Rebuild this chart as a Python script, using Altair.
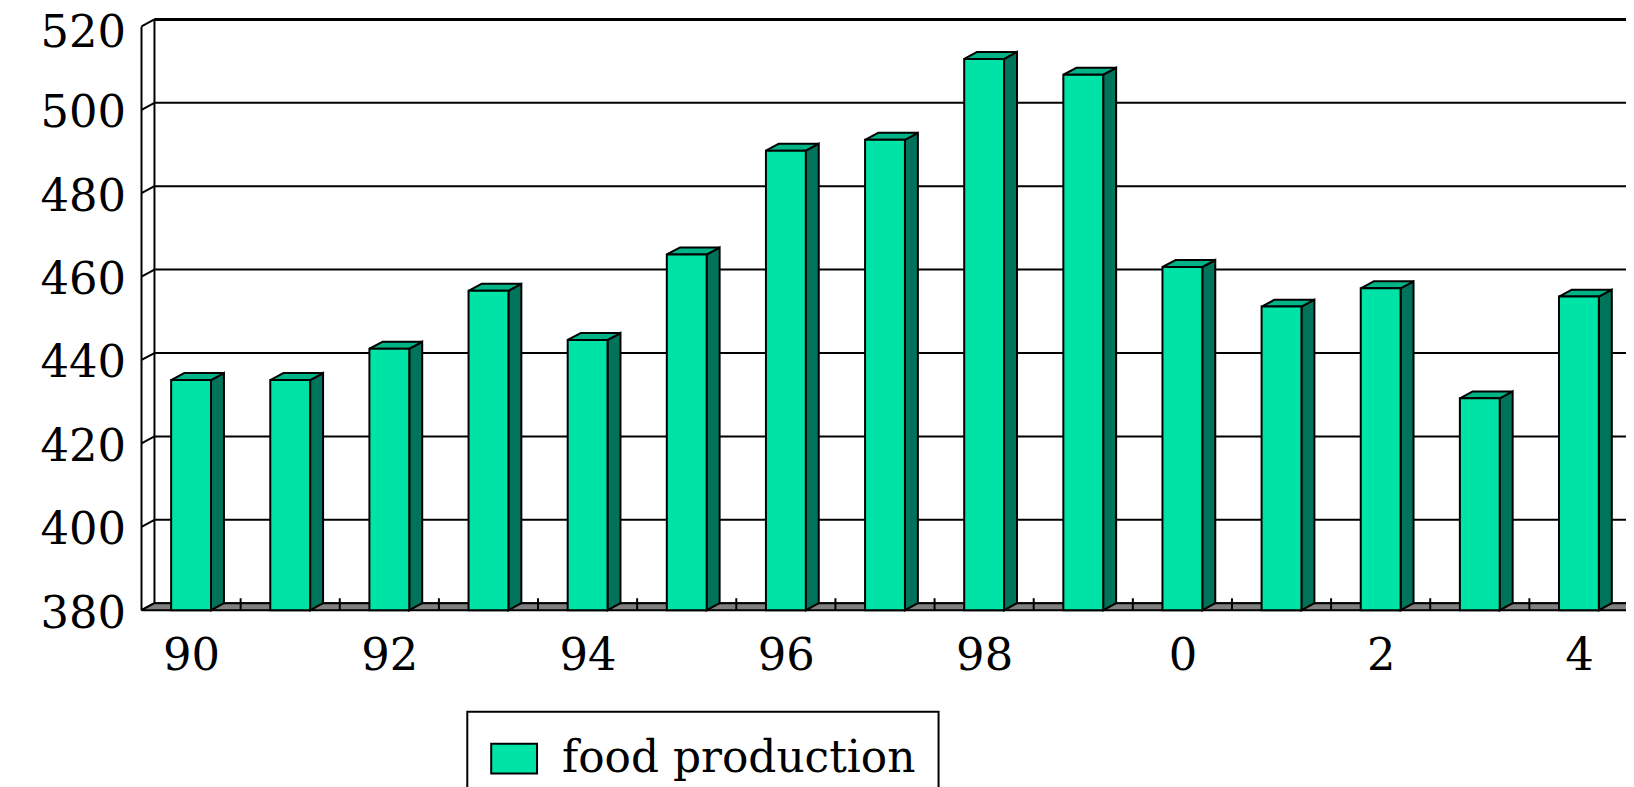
import json
import altair as alt
import pandas as pd

# ---------------- data ----------------
YEARS = ["90", "91", "92", "93", "94", "95", "96", "97", "98", "99", "0", "1", "2", "3", "4"]
VALUES = [435.2, 435.2, 442.7, 456.6, 444.8, 465.3, 490.2, 492.8, 512.2, 508.4,
          462.3, 452.8, 457.2, 430.8, 455.2]
SERIES = "food production"
Y_TICKS = [380, 400, 420, 440, 460, 480, 500, 520]
X_LABEL_IDX = [0, 2, 4, 6, 8, 10, 12, 14]

# ---------------- geometry / style ----------------
W, H = 1490, 586
BAND = 99.5
XMIN = -0.5
XMAX = XMIN + W / BAND
YMIN, YMAX = 380, 520
PX_PER_Y = H / (YMAX - YMIN)
DXP, DYP = 13, 7                  # 3-D depth in pixels
DX = DXP / BAND
DY = DYP / PX_PER_Y
BAR_PX = 40
HW = BAR_PX / 2 / BAND

FRONT = "#00E3A6"
SIDE = "#00745A"
TOP = "#00B487"
FLOOR = "#808080"
FONT = "DejaVu Serif"

idx = list(range(len(YEARS)))
bars = pd.DataFrame({"idx": idx, "year": YEARS, "value": VALUES,
                     "series": [SERIES] * len(YEARS), "base": [YMIN] * len(YEARS)})

side_rows, top_rows = [], []
for i, v in zip(idx, VALUES):
    side_rows.append({"idx": i, "sx": i + HW, "stop": v, "sbot": YMIN})
    side_rows.append({"idx": i, "sx": i + HW + DX, "stop": v + DY, "sbot": YMIN + DY})
    top_rows.append({"idx": i, "ty": v, "txl": i - HW, "txr": i + HW})
    top_rows.append({"idx": i, "ty": v + DY, "txl": i - HW + DX, "txr": i + HW + DX})
side = pd.DataFrame(side_rows)
topf = pd.DataFrame(top_rows)

floor = pd.DataFrame({"fy": [YMIN, YMIN + DY],
                      "fx1": [XMIN, XMIN + DX],
                      "fx2": [XMAX + 1, XMAX + 1 + DX]})
grid = pd.DataFrame({"v": Y_TICKS, "x0": [XMIN] * len(Y_TICKS), "x1": [XMAX + 1] * len(Y_TICKS)})
topline = pd.DataFrame({"v": [YMAX], "x0": [XMIN], "x1": [XMAX + 1]})
wall = pd.DataFrame({"x0": [XMIN], "y1": [YMIN], "y2": [YMAX]})
bounds = pd.DataFrame({"b": [i + 0.5 for i in idx], "base": [YMIN] * len(idx)})

xs = alt.Scale(domain=[XMIN, XMAX], padding=0, nice=False, zero=False)
ys = alt.Scale(domain=[YMIN, YMAX], padding=0, nice=False, zero=False)

X_AXIS = alt.Axis(values=X_LABEL_IDX, labelExpr=f"{json.dumps(YEARS)}[datum.value]",
                  labelFont=FONT, labelFontSize=45, labelColor="black", ticks=False,
                  domain=False, grid=False, labelPadding=24, title=None,
                  labelOverlap=False, labelFlush=False)
Y_AXIS = alt.Axis(values=Y_TICKS, labelFont=FONT, labelFontSize=45, labelColor="black",
                  ticks=False, domain=False, grid=False, labelPadding=16, title=None,
                  labelOffset={"condition": {"test": f"datum.value == {YMAX}", "value": 6},
                               "value": 3},
                  labelFlush=False, labelOverlap=False)


def X(field):
    return alt.X(field, type="quantitative", scale=xs, axis=X_AXIS)


def Y(field):
    return alt.Y(field, type="quantitative", scale=ys, axis=Y_AXIS)


grid_layer = alt.Chart(grid).mark_rule(color="black", strokeWidth=2, xOffset=DXP, x2Offset=DXP,
                                       yOffset=-DYP).encode(x=X("x0"), x2="x1", y=Y("v"))
top_layer = alt.Chart(topline).mark_rule(color="black", strokeWidth=3, xOffset=DXP, x2Offset=DXP,
                                         yOffset=-DYP).encode(x=X("x0"), x2="x1", y=Y("v"))
wall_ticks = alt.Chart(grid).mark_rule(color="black", strokeWidth=2, x2Offset=DXP,
                                       y2Offset=-DYP).encode(x=X("x0"), x2="x0", y=Y("v"), y2="v")
wall_front = alt.Chart(wall).mark_rule(color="black", strokeWidth=2).encode(
    x=X("x0"), y=Y("y1"), y2="y2")
wall_back = alt.Chart(wall).mark_rule(color="black", strokeWidth=2, xOffset=DXP, yOffset=-DYP,
                                      y2Offset=-DYP).encode(x=X("x0"), y=Y("y1"), y2="y2")
floor_layer = alt.Chart(floor).mark_area(orient="horizontal", fill=FLOOR, stroke="black",
                                         strokeWidth=2).encode(y=Y("fy"), x=X("fx1"), x2="fx2")
floor_ticks = alt.Chart(bounds).mark_rule(color="black", strokeWidth=2, y2Offset=-12).encode(
    x=X("b"), y=Y("base"), y2="base")
side_layer = alt.Chart(side).mark_area(orient="vertical", fill=SIDE, stroke="black", strokeWidth=2,
                                       strokeJoin="miter").encode(
    x=X("sx"), y=Y("stop"), y2="sbot", detail="idx:N")
top_face = alt.Chart(topf).mark_area(orient="horizontal", fill=TOP, stroke="black", strokeWidth=2,
                                     strokeJoin="miter").encode(
    y=Y("ty"), x=X("txl"), x2="txr", detail="idx:N")
front = alt.Chart(bars).mark_bar(size=BAR_PX, stroke="black", strokeWidth=2, opacity=1).encode(
    x=X("idx"), y=Y("value"), y2="base",
    color=alt.Color("series:N", scale=alt.Scale(domain=[SERIES], range=[FRONT]),
                    legend=alt.Legend(title=None, orient="none", legendX=327, legendY=688,
                                      symbolType="M-1,-0.65L1,-0.65L1,0.65L-1,0.65Z",
                                      symbolSize=2116, symbolStrokeColor="black",
                                      symbolStrokeWidth=2, labelFont=FONT, labelFontSize=44,
                                      labelColor="black", labelOffset=24, padding=23,
                                      labelLimit=2000,
                                      strokeColor="black", fillColor="white")))

chart = alt.layer(grid_layer, top_layer, wall_ticks, wall_front, wall_back, floor_layer,
                  floor_ticks, side_layer, top_face, front).properties(
    width=W, height=H,
    autosize=alt.AutoSizeParams(type="none"),
    padding={"left": 134, "top": 17, "right": 0, "bottom": 176},
).configure_view(strokeWidth=0).configure_legend(strokeWidth=2)

chart.save("out.html", embed_options={"renderer": "svg", "actions": False})
